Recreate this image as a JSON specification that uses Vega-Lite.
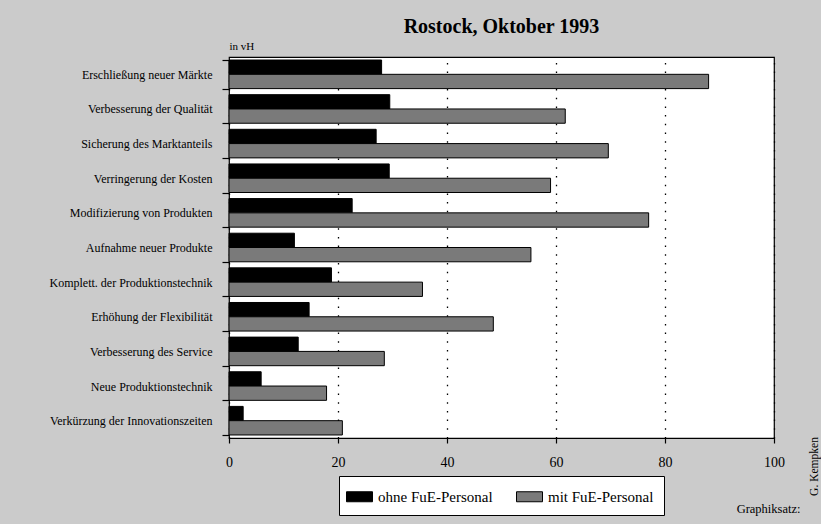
{
  "$schema": "https://vega.github.io/schema/vega-lite/v6.json",
  "width": 545,
  "height": 381,
  "autosize": {"type": "none"},
  "padding": {"left": 229, "top": 57, "right": 47, "bottom": 86},
  "background": "#cbcbcb",
  "title": {"text": "Rostock, Oktober 1993", "font": "Liberation Serif", "fontSize": 20, "fontWeight": "bold", "color": "black", "anchor": "middle", "baseline": "alphabetic", "offset": 4, "dy": 17},
  "config": {"view": {"fill": "white", "stroke": "black", "strokeWidth": 1.2}, "font": "Liberation Serif"},
  "data": {"values": [
    {"motiv": "Erschließung neuer Märkte", "gruppe": "ohne FuE-Personal", "anteil": 28},
    {"motiv": "Erschließung neuer Märkte", "gruppe": "mit FuE-Personal", "anteil": 88},
    {"motiv": "Verbesserung der Qualität", "gruppe": "ohne FuE-Personal", "anteil": 29.5},
    {"motiv": "Verbesserung der Qualität", "gruppe": "mit FuE-Personal", "anteil": 61.7},
    {"motiv": "Sicherung des Marktanteils", "gruppe": "ohne FuE-Personal", "anteil": 27},
    {"motiv": "Sicherung des Marktanteils", "gruppe": "mit FuE-Personal", "anteil": 69.6},
    {"motiv": "Verringerung der Kosten", "gruppe": "ohne FuE-Personal", "anteil": 29.4},
    {"motiv": "Verringerung der Kosten", "gruppe": "mit FuE-Personal", "anteil": 59},
    {"motiv": "Modifizierung von Produkten", "gruppe": "ohne FuE-Personal", "anteil": 22.6},
    {"motiv": "Modifizierung von Produkten", "gruppe": "mit FuE-Personal", "anteil": 77},
    {"motiv": "Aufnahme neuer Produkte", "gruppe": "ohne FuE-Personal", "anteil": 12},
    {"motiv": "Aufnahme neuer Produkte", "gruppe": "mit FuE-Personal", "anteil": 55.4},
    {"motiv": "Komplett. der Produktionstechnik", "gruppe": "ohne FuE-Personal", "anteil": 18.8},
    {"motiv": "Komplett. der Produktionstechnik", "gruppe": "mit FuE-Personal", "anteil": 35.5},
    {"motiv": "Erhöhung der Flexibilität", "gruppe": "ohne FuE-Personal", "anteil": 14.7},
    {"motiv": "Erhöhung der Flexibilität", "gruppe": "mit FuE-Personal", "anteil": 48.5},
    {"motiv": "Verbesserung des Service", "gruppe": "ohne FuE-Personal", "anteil": 12.7},
    {"motiv": "Verbesserung des Service", "gruppe": "mit FuE-Personal", "anteil": 28.5},
    {"motiv": "Neue Produktionstechnik", "gruppe": "ohne FuE-Personal", "anteil": 5.9},
    {"motiv": "Neue Produktionstechnik", "gruppe": "mit FuE-Personal", "anteil": 17.9},
    {"motiv": "Verkürzung der Innovationszeiten", "gruppe": "ohne FuE-Personal", "anteil": 2.6},
    {"motiv": "Verkürzung der Innovationszeiten", "gruppe": "mit FuE-Personal", "anteil": 20.8}
  ]},
  "layer": [
    {
      "mark": {"type": "bar", "stroke": "black", "strokeWidth": 1},
      "encoding": {
        "y": {
          "field": "motiv", "type": "nominal", "sort": null,
          "scale": {"paddingInner": 0.175, "paddingOuter": 0.0875},
          "axis": {
            "title": "in vH", "titleAngle": 0, "titleAlign": "left", "titleX": 0, "titleY": -8,
            "titleBaseline": "alphabetic", "titleFontSize": 11, "titleFontWeight": "normal", "titleColor": "black", "titleFont": "Liberation Serif",
            "labelFontSize": 12, "labelColor": "black", "labelFont": "Liberation Serif", "labelPadding": 10, "labelLimit": 300,
            "tickBand": "extent", "tickSize": 7, "tickColor": "black", "tickWidth": 1.2, "domain": false
          }
        },
        "yOffset": {"field": "gruppe", "type": "nominal", "sort": ["ohne FuE-Personal", "mit FuE-Personal"], "scale": {"paddingInner": 0, "paddingOuter": 0}},
        "x": {
          "field": "anteil", "type": "quantitative",
          "scale": {"domain": [0, 100], "nice": false},
          "axis": {
            "values": [0, 20, 40, 60, 80, 100], "grid": true, "gridDash": [1.5, 7.2], "gridColor": "black", "gridWidth": 1.3, "gridOpacity": 1,
            "tickColor": "black", "tickSize": 5, "tickWidth": 1.2, "domainColor": "black", "domainWidth": 1.2,
            "labelFontSize": 14, "labelColor": "black", "labelFont": "Liberation Serif", "labelPadding": 12, "labelFlush": false,
            "title": "Graphiksatz:", "titleFontSize": 12.5, "titleFontWeight": "normal", "titleColor": "black", "titleFont": "Liberation Serif",
            "titleX": 571, "titleY": 74, "titleAlign": "right", "titleBaseline": "alphabetic"
          }
        },
        "color": {
          "field": "gruppe", "type": "nominal",
          "scale": {"domain": ["ohne FuE-Personal", "mit FuE-Personal"], "range": ["#000000", "#7a7a7a"]},
          "legend": {
            "orient": "none", "legendX": 110, "legendY": 419, "direction": "horizontal", "title": null,
            "strokeColor": "black", "fillColor": "white", "padding": 10,
            "symbolType": "M-1.3,-0.5H1.3V0.5H-1.3Z", "symbolSize": 400, "symbolStrokeColor": "black", "symbolStrokeWidth": 1, "symbolOpacity": 1,
            "labelFontSize": 15, "labelFont": "Liberation Serif", "labelColor": "black", "labelOffset": 8, "columnPadding": 21
          }
        }
      }
    },
    {
      "mark": {"type": "bar", "opacity": 0},
      "encoding": {
        "y": {
          "field": "motiv", "type": "nominal", "sort": null,
          "axis": {
            "orient": "right", "labels": false, "ticks": false, "domain": false,
            "title": "G. Kempken", "titleAngle": -90, "titleFontSize": 11.5, "titleFontWeight": "normal", "titleColor": "black", "titleFont": "Liberation Serif",
            "titleX": 40, "titleY": 409, "titleAlign": "center", "titleBaseline": "middle"
          }
        }
      }
    }
  ],
  "resolve": {"scale": {"y": "independent"}, "axis": {"y": "independent"}}
}
